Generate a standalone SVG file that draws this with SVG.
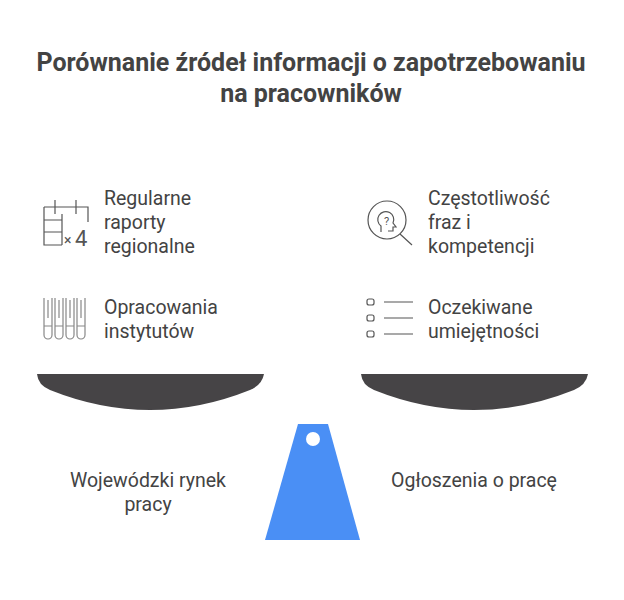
<svg xmlns="http://www.w3.org/2000/svg" width="624" height="600" viewBox="0 0 624 600">
<style>
.t{font-family:Roboto,"Liberation Sans",sans-serif;font-size:25px;font-weight:bold;fill:#434343;text-anchor:middle}
.l{font-family:Roboto,"Liberation Sans",sans-serif;font-size:19.5px;fill:#434343}
.ic{fill:none;stroke:#555;stroke-width:1.2}
.ic2{fill:none;stroke:#888;stroke-width:1.2}
.pan{fill:#464446}
</style>
<rect width="624" height="600" fill="#fff"/>
<text class="t" x="311" y="71">Porównanie źródeł informacji o zapotrzebowaniu</text>
<text class="t" x="311" y="102">na pracowników</text>
<g id="n1">
<path class="ic" d="M44 207H88V222M44 207V245H62M44 220H62M44 232H62M62 214V245M55 200V214M76 200V214"/>
<text x="64" y="245" font-family="Roboto,sans-serif" font-size="14" fill="#555">×</text>
<text x="75" y="246" font-family="Roboto,sans-serif" font-size="22" fill="#555">4</text>
<text class="l" x="104" y="205">Regularne</text><text class="l" x="104" y="229">raporty</text><text class="l" x="104" y="253">regionalne</text>
</g>
<g id="n2">
<g class="ic2"><path d="M44 298V335a4 4 0 0 0 8 0V298M48 300V318M44 326H52"/><path d="M55 298V335a4 4 0 0 0 8 0V298M59 300V318M55 326H63"/><path d="M66 298V335a4 4 0 0 0 8 0V298M70 300V318M66 326H74"/><path d="M77 298V335a4 4 0 0 0 8 0V298M81 300V318M77 326H85"/></g>
<text class="l" x="104" y="314">Opracowania</text><text class="l" x="104" y="338">instytutów</text>
</g>
<g id="n3">
<circle class="ic" cx="387" cy="220" r="19"/><path class="ic" d="M400 234L412 245M381 232V226a8 8 0 1 1 12 -3l3 4h-3v4h-5"/>
<text x="384" y="225" font-family="Roboto,sans-serif" font-size="11" fill="#555">?</text>
<text class="l" x="428" y="205">Częstotliwość</text><text class="l" x="428" y="229">fraz i</text><text class="l" x="428" y="253">kompetencji</text>
</g>
<g id="n4">
<g class="ic"><rect x="367" y="299" width="7" height="6" rx="2"/><rect x="367" y="315" width="7" height="6" rx="2"/><rect x="367" y="331" width="7" height="6" rx="2"/><path d="M384 302H413M384 318H413M384 334H413"/></g>
<text class="l" x="428" y="314">Oczekiwane</text><text class="l" x="428" y="338">umiejętności</text>
</g>
<g id="scale">
<path class="pan" d="M37 374H264Q262 385 250 390Q150 430 50 390Q38 385 37 374Z"/>
<path class="pan" d="M361 374H588Q586 385 574 390Q474 430 374 390Q362 385 361 374Z"/>
<path d="M298 424H328L360 540H265Z" fill="#4a8ff5"/>
<circle cx="313" cy="439" r="7" fill="#fff"/>
</g>
<g id="n5"><text class="l" x="148" y="487" text-anchor="middle">Wojewódzki rynek</text><text class="l" x="148" y="511" text-anchor="middle">pracy</text></g>
<g id="n6"><text class="l" x="474" y="487" text-anchor="middle">Ogłoszenia o pracę</text></g>
</svg>
